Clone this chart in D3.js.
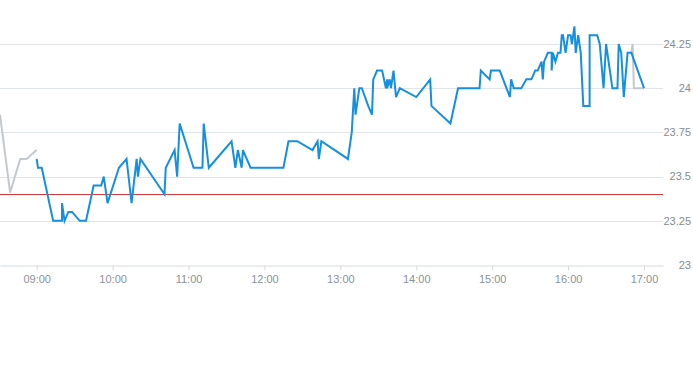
<!DOCTYPE html>
<html>
<head>
<meta charset="utf-8">
<script src="https://cdn.jsdelivr.net/npm/d3@7"></script>
<style>
  body { margin: 0; background: #fff; }
  svg { display: block; font-family: "Liberation Sans", Arial, sans-serif; }
</style>
</head>
<body>
<div id="chart"></div>
<script>
// ----- data -----
const preTimes  = ["08:31", "08:39", "08:47", "08:52", "09:00"];
const preValues = [23.85, 23.41, 23.60, 23.60, 23.65];

const dayTimes = [
  "09:00","09:01","09:04","09:13","09:20","09:20","09:22","09:25","09:28","09:34",
  "09:39","09:45","09:51","09:53","09:56","10:05","10:11","10:15","10:19","10:20",
  "10:22","10:41","10:42","10:49","10:51","10:53","11:04","11:11","11:12","11:16",
  "11:34","11:37","11:39","11:42","11:43","11:49","12:15","12:19","12:26","12:38",
  "12:42","12:43","12:45","13:06","13:09","13:11","13:12","13:15","13:17","13:22",
  "13:25","13:26","13:29","13:33","13:36","13:37","13:37","13:39","13:40","13:42",
  "13:44","13:47","14:00","14:11","14:12","14:27","14:33","14:50","14:51","14:58",
  "14:59","15:06","15:14","15:15","15:17","15:23","15:27","15:31","15:34","15:36",
  "15:39","15:40","15:41","15:44","15:47","15:47","15:48","15:50","15:52","15:54",
  "15:55","15:56","15:58","16:00","16:02","16:03","16:05","16:06","16:08","16:10",
  "16:12","16:17","16:17","16:23","16:25","16:28","16:30","16:35","16:39","16:40",
  "16:42","16:44","16:47","16:50","17:00"
];
const dayValues = [
  23.60,23.55,23.55,23.25,23.25,23.35,23.25,23.30,23.30,23.25,
  23.25,23.45,23.45,23.50,23.35,23.55,23.60,23.35,23.60,23.50,
  23.60,23.40,23.55,23.65,23.50,23.80,23.55,23.55,23.80,23.55,
  23.70,23.55,23.65,23.55,23.65,23.55,23.55,23.70,23.70,23.65,
  23.70,23.60,23.70,23.60,23.75,24.00,23.85,24.00,24.00,23.90,
  23.85,24.05,24.10,24.10,24.00,24.05,24.00,24.05,24.00,24.10,
  23.95,24.00,23.95,24.05,23.90,23.80,24.00,24.00,24.10,24.05,
  24.10,24.10,23.95,24.05,24.00,24.00,24.05,24.05,24.10,24.10,
  24.15,24.05,24.15,24.20,24.20,24.10,24.20,24.15,24.20,24.20,
  24.30,24.30,24.20,24.30,24.30,24.25,24.35,24.20,24.30,24.20,
  23.90,23.90,24.30,24.30,24.25,24.00,24.25,24.00,24.00,24.25,
  24.20,23.95,24.20,24.20,24.00
];

const postTimes  = ["16:50", "16:51", "16:52", "17:00"];
const postValues = [24.20, 24.25, 24.00, 24.00];

const refValue = 23.40;
const yTicks = [23, 23.25, 23.5, 23.75, 24, 24.25];
const xTickLabels = ["09:00","10:00","11:00","12:00","13:00","14:00","15:00","16:00","17:00"];

// ----- layout -----
const width = 693, height = 365;
const plotW = 663, plotTop = 0, plotBottom = 265;

const parseT = d3.timeParse("%H:%M");
const toPts = (ts, vs) => ts.map((t, i) => ({ t: parseT(t), v: vs[i] }));

const svg = d3.select("#chart").append("svg")
  .attr("width", width)
  .attr("height", height);

const x = d3.scaleTime()
  .domain([parseT("08:31"), parseT("17:15")])
  .range([0, plotW]);

const y = d3.scaleLinear()
  .domain([23, 24.25])
  .range([plotBottom, 44]);

// grid lines
svg.append("g")
  .selectAll("line")
  .data(yTicks.filter(d => d !== 23))
  .enter().append("line")
  .attr("x1", 0).attr("x2", plotW)
  .attr("y1", d => Math.round(y(d)) + 0.5)
  .attr("y2", d => Math.round(y(d)) + 0.5)
  .style("stroke", "#e1e4e8")
  .style("stroke-width", 1);

// y labels on the right
svg.append("g")
  .selectAll("text")
  .data(yTicks)
  .enter().append("text")
  .attr("x", 691)
  .attr("y", d => y(d))
  .attr("dy", "0.35em")
  .attr("text-anchor", "end")
  .style("font-size", "11px")
  .style("fill", "#848c95")
  .text(d => d3.format("")(d));

// x axis
const xAxis = d3.axisBottom(x)
  .tickValues(xTickLabels.map(parseT))
  .tickFormat(d3.timeFormat("%H:%M"))
  .tickSize(5)
  .tickSizeOuter(0)
  .tickPadding(5);

const gx = svg.append("g")
  .attr("transform", "translate(0," + (plotBottom + 0.5) + ")")
  .call(xAxis);
gx.select(".domain").style("stroke", "#d6dadf");
gx.selectAll(".tick line").style("stroke", "#d6dadf");
gx.selectAll(".tick text")
  .style("font-size", "11px")
  .style("font-family", "\"Liberation Sans\", Arial, sans-serif")
  .style("fill", "#8a929b");

// clip so the grey line starts at the left edge
svg.append("defs").append("clipPath").attr("id", "plotclip")
  .append("rect").attr("x", 0).attr("y", 0).attr("width", plotW).attr("height", plotBottom);

const line = d3.line()
  .x(d => x(d.t))
  .y(d => y(d.v));

const plot = svg.append("g").attr("clip-path", "url(#plotclip)");

// reference line
plot.append("line")
  .attr("x1", 0).attr("x2", plotW)
  .attr("y1", Math.round(y(refValue)) + 0.5)
  .attr("y2", Math.round(y(refValue)) + 0.5)
  .style("stroke", "#d9383a")
  .style("stroke-width", 1);

// pre / post market (grey)
[toPts(preTimes, preValues), toPts(postTimes, postValues)].forEach(pts => {
  plot.append("path")
    .datum(pts)
    .attr("d", line)
    .style("fill", "none")
    .style("stroke", "#c3c9cf")
    .style("stroke-width", 2);
});

// session (blue)
plot.append("path")
  .datum(toPts(dayTimes, dayValues))
  .attr("d", line)
  .style("fill", "none")
  .style("stroke", "#1590e0")
  .style("stroke-width", 2)
  .style("stroke-linejoin", "miter");
</script>
</body>
</html>
